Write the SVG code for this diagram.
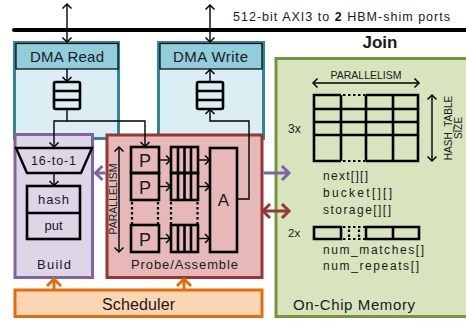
<svg xmlns="http://www.w3.org/2000/svg" width="466" height="322" viewBox="0 0 466 322">
<style>
text{font-family:"Liberation Sans",Arial,sans-serif;fill:#1a1a1a}
.c{text-anchor:middle}
.ln{fill:none;stroke:#000;stroke-width:1.4}
.bx{fill:none;stroke:#000;stroke-width:2.6}
.dot{fill:none;stroke:#000;stroke-width:2.2;stroke-dasharray:2.5 2.5}
.thk{fill:none;stroke:#000;stroke-width:2.6}
</style>
<defs>
<marker id="ah" markerUnits="userSpaceOnUse" markerWidth="12" markerHeight="12" viewBox="-6 -6 12 12" refX="0" refY="0" orient="auto-start-reverse">
<path d="M-4.5,-4.5 L0,0 L-4.5,4.5" fill="none" stroke="#000" stroke-width="1.5"/>
</marker>
<marker id="ahp" markerUnits="userSpaceOnUse" markerWidth="18" markerHeight="18" viewBox="-9 -9 18 18" refX="0" refY="0" orient="auto-start-reverse">
<path d="M-7,-7 L0,0 L-7,7" fill="none" stroke="#8064a2" stroke-width="3"/>
</marker>
<marker id="ahr" markerUnits="userSpaceOnUse" markerWidth="18" markerHeight="18" viewBox="-9 -9 18 18" refX="0" refY="0" orient="auto-start-reverse">
<path d="M-7,-7 L0,0 L-7,7" fill="none" stroke="#953735" stroke-width="3"/>
</marker>
<marker id="aho" markerUnits="userSpaceOnUse" markerWidth="18" markerHeight="18" viewBox="-9 -9 18 18" refX="0" refY="0" orient="auto-start-reverse">
<path d="M-7,-7 L0,0 L-7,7" fill="none" stroke="#e46c0a" stroke-width="3"/>
</marker>
</defs>

<rect width="466" height="322" fill="#fff"/>

<g id="bus">
<line x1="14" y1="30" x2="466" y2="30" stroke="#000" stroke-width="4" stroke-linecap="round"/>
<text x="233" y="21" font-size="12.5" textLength="217" lengthAdjust="spacing">512-bit AXI3 to <tspan font-weight="bold">2</tspan> HBM-shim ports</text>
</g>

<g id="memory">
<rect x="276" y="58.5" width="200" height="258" fill="#d7e4bd" stroke="#77933c" stroke-width="3"/>
<text x="380" y="48" class="c" font-size="17" font-weight="bold">Join</text>
<text x="366" y="79" class="c" font-size="10.5">PARALLELISM</text>
<line x1="313" y1="83" x2="419" y2="83" class="ln" marker-start="url(#ah)" marker-end="url(#ah)"/>
<path class="thk" d="M314,95 V161 M341,95 V161 M366,95 V161 M393,95 V161 M418,95 V161 M314,109 H418 M314,122 H418 M314,135 H418 M312.7,95 H341 M366,95 H419.3 M312.7,161 H341 M366,161 H419.3"/>
<path class="dot" d="M343,95 H366 M343,161 H366"/>
<line x1="432" y1="95" x2="432" y2="161" class="ln" marker-start="url(#ah)" marker-end="url(#ah)"/>
<text transform="translate(451.5,128) rotate(-90)" class="c" font-size="10">HASH_TABLE</text>
<text transform="translate(462,128) rotate(-90)" class="c" font-size="10">SIZE</text>
<text x="288" y="133" font-size="12">3x</text>
<text x="323" y="180" font-size="12" textLength="45" lengthAdjust="spacing">next[][]</text>
<text x="323" y="197" font-size="12" textLength="69" lengthAdjust="spacing">bucket[][]</text>
<text x="323" y="214" font-size="12" textLength="68" lengthAdjust="spacing">storage[][]</text>
<text x="288" y="237" font-size="11.5">2x</text>
<path class="thk" d="M314,227 H341 V239 H314 Z M366,227 H419 V239 H366 Z M393,227 V239"/>
<path class="dot" d="M343,227 H366 M343,239 H366 M349,229.5 V237 M359,229.5 V237"/>
<text x="323" y="254" font-size="12" textLength="101" lengthAdjust="spacing">num_matches[]</text>
<text x="323" y="270" font-size="12" textLength="96" lengthAdjust="spacing">num_repeats[]</text>
<text x="293" y="310" font-size="15" textLength="122" lengthAdjust="spacing">On-Chip Memory</text>
</g>

<g id="dma-read">
<rect x="14.5" y="42.5" width="104" height="96" fill="#daeef3" stroke="#31859c" stroke-width="3"/>
<rect x="16" y="43.5" width="102" height="25.5" fill="#92cddc" stroke="#000" stroke-width="1.2"/>
<text x="67" y="62" class="c" font-size="15" textLength="74" lengthAdjust="spacing">DMA Read</text>
<rect x="54" y="82" width="26" height="27" rx="1.5" class="bx"/>
<path class="bx" d="M54,91 H80 M54,100 H80"/>
</g>

<g id="dma-write">
<rect x="158.5" y="42.5" width="105" height="96" fill="#daeef3" stroke="#31859c" stroke-width="3"/>
<rect x="160" y="43.5" width="102" height="25.5" fill="#92cddc" stroke="#000" stroke-width="1.2"/>
<text x="210.5" y="62" class="c" font-size="15" textLength="75" lengthAdjust="spacing">DMA Write</text>
<rect x="197" y="82" width="26" height="27" rx="1.5" class="bx"/>
<path class="bx" d="M197,91 H223 M197,100 H223"/>
</g>

<g id="build">
<rect x="15" y="134.5" width="77.5" height="143" fill="#ddd6e6" stroke="#8064a2" stroke-width="3"/>
<path d="M16,148 H92 L81,173 H27 Z" fill="none" stroke="#000" stroke-width="2.4" stroke-linejoin="miter"/>
<text x="53.5" y="165" class="c" font-size="12.5" textLength="45" lengthAdjust="spacing">16-to-1</text>
<rect x="27" y="186" width="53" height="53" class="bx"/>
<line x1="27" y1="213" x2="80" y2="213" class="bx"/>
<text x="53.5" y="204" class="c" font-size="13" textLength="31" lengthAdjust="spacing">hash</text>
<text x="53.5" y="230" class="c" font-size="13">put</text>
<text x="54" y="269" class="c" font-size="13" textLength="34" lengthAdjust="spacing">Build</text>
</g>

<g id="probe-assemble">
<rect x="107" y="135" width="155" height="142.5" fill="#e6b9b8" stroke="#953735" stroke-width="3"/>
<line x1="119" y1="147" x2="119" y2="252" class="ln" marker-start="url(#ah)" marker-end="url(#ah)"/>
<text transform="translate(116.5,199) rotate(-90)" class="c" font-size="10.5">PARALLELISM</text>
<rect x="131" y="147" width="28" height="26" class="bx"/>
<rect x="131" y="173" width="28" height="27" class="bx"/>
<rect x="131" y="225" width="28" height="27" class="bx"/>
<text x="145" y="167" class="c" font-size="18">P</text>
<text x="145" y="193.5" class="c" font-size="18">P</text>
<text x="145" y="245.5" class="c" font-size="18">P</text>
<rect x="171" y="147" width="27" height="26" class="bx"/>
<rect x="171" y="173" width="27" height="27" class="bx"/>
<rect x="171" y="225" width="27" height="27" class="bx"/>
<path class="bx" d="M178,147 V200 M184.5,147 V200 M191,147 V200 M178,225 V252 M184.5,225 V252 M191,225 V252"/>
<path class="dot" d="M132,202 V224 M158,202 V224 M171,202 V224 M197.5,202 V224"/>
<rect x="210" y="148" width="27" height="104" class="bx"/>
<text x="223.5" y="206" class="c" font-size="17">A</text>
<line x1="159" y1="160" x2="170.5" y2="160" class="ln" marker-end="url(#ah)"/>
<line x1="159" y1="186.5" x2="170.5" y2="186.5" class="ln" marker-end="url(#ah)"/>
<line x1="159" y1="238.5" x2="170.5" y2="238.5" class="ln" marker-end="url(#ah)"/>
<line x1="198" y1="160" x2="209.5" y2="160" class="ln" marker-end="url(#ah)"/>
<line x1="198" y1="186.5" x2="209.5" y2="186.5" class="ln" marker-end="url(#ah)"/>
<line x1="198" y1="238.5" x2="209.5" y2="238.5" class="ln" marker-end="url(#ah)"/>
<text x="184.5" y="269" class="c" font-size="13" textLength="107" lengthAdjust="spacing">Probe/Assemble</text>
</g>

<g id="scheduler">
<rect x="15" y="290" width="247" height="26.5" fill="#fcd5b5" stroke="#e46c0a" stroke-width="3"/>
<text x="138.5" y="310" class="c" font-size="16" textLength="73" lengthAdjust="spacing">Scheduler</text>
</g>

<g id="connectors">
<line x1="67" y1="4" x2="67" y2="42" class="ln" marker-start="url(#ah)" marker-end="url(#ah)"/>
<line x1="210" y1="5" x2="210" y2="42" class="ln" marker-start="url(#ah)" marker-end="url(#ah)"/>
<line x1="67" y1="69" x2="67" y2="81.5" class="ln" marker-end="url(#ah)"/>
<line x1="210" y1="81.5" x2="210" y2="69.5" class="ln" marker-end="url(#ah)"/>
<path class="ln" d="M67,109 V121"/>
<path class="ln" d="M54,147 V121 H145 V146.5" marker-start="url(#ah)" marker-end="url(#ah)"/>
<line x1="54" y1="173" x2="54" y2="185.5" class="ln" marker-end="url(#ah)"/>
<path class="ln" d="M237,199 H249 V121 H210 V109.5" marker-end="url(#ah)"/>
<line x1="105.5" y1="173" x2="95.5" y2="173" stroke="#8064a2" stroke-width="3" marker-end="url(#ahp)"/>
<line x1="263.5" y1="173" x2="289" y2="173" stroke="#8064a2" stroke-width="3" marker-end="url(#ahp)"/>
<line x1="263" y1="211" x2="289" y2="211" stroke="#953735" stroke-width="3" marker-start="url(#ahr)" marker-end="url(#ahr)"/>
<line x1="54" y1="289" x2="54" y2="279" stroke="#e46c0a" stroke-width="3" marker-end="url(#aho)"/>
<line x1="184" y1="289" x2="184" y2="279" stroke="#e46c0a" stroke-width="3" marker-end="url(#aho)"/>
</g>
</svg>
